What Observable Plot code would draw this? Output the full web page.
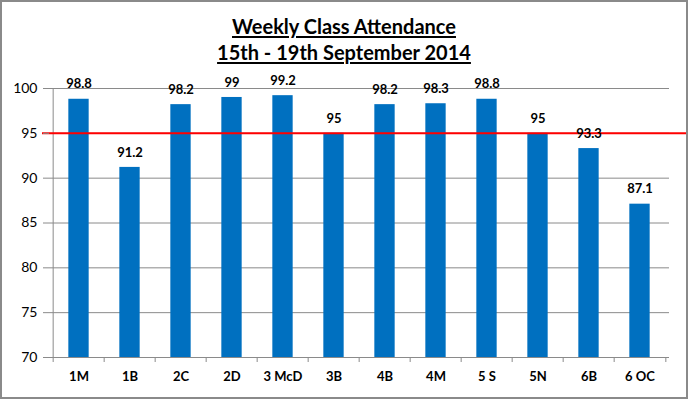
<!DOCTYPE html>
<html>
<head>
<meta charset="utf-8">
<script src="https://cdn.jsdelivr.net/npm/d3@7"></script>
<script src="https://cdn.jsdelivr.net/npm/@observablehq/plot@0.6"></script>
<style>
  html, body { margin: 0; padding: 0; background: #fff; }
  #wrap { position: relative; width: 688px; height: 399px; overflow: hidden; font-family: Lato, "Open Sans", sans-serif; }
  #title { height: 70px; box-sizing: border-box; padding-top: 13px; text-align: center; font-weight: bold; font-size: 20px; line-height: 26px; color: #000; }
  #title span { text-decoration: underline; text-underline-offset: 2px; }
  #border { position: absolute; left: 0; top: 0; width: 688px; height: 399px; box-sizing: border-box; border: 2px solid #8a8a8a; pointer-events: none; }
</style>
</head>
<body>
<div id="wrap">
  <div id="title"><span>Weekly Class Attendance</span><br><span>15th - 19th September 2014</span></div>
  <div id="chart"></div>
  <div id="border"></div>
</div>
<script>
const classes = ["1M", "1B", "2C", "2D", "3 McD", "3B", "4B", "4M", "5 S", "5N", "6B", "6 OC"];
const attendance = [98.8, 91.2, 98.2, 99, 99.2, 95, 98.2, 98.3, 98.8, 95, 93.3, 87.1];
const target = [95];
const yTicks = [70, 75, 80, 85, 90, 95, 100];

const data = classes.map((c, i) => ({cls: c, value: attendance[i]}));

const W = 688, H = 329, mL = 49, mR = 19, mT = 18, mB = 42;
const bw = (W - mL - mR) / classes.length;
const frameH = H - mT - mB;
const barW = 21;
const inset = (bw - barW) / 2;
const gray = "#8a8a8a";

const chart = Plot.plot({
  width: W,
  height: H,
  marginLeft: mL,
  marginRight: mR,
  marginTop: mT,
  marginBottom: mB,
  style: {fontFamily: "Lato, 'Open Sans', sans-serif", color: "#000", background: "#fff"},
  x: {domain: classes, padding: 0},
  y: {domain: [70, 100]},
  marks: [
    Plot.gridY(yTicks, {stroke: gray, strokeOpacity: 1, strokeWidth: 1}),
    Plot.ruleX([classes[0]], {dx: -bw / 2, stroke: gray, strokeWidth: 1}),
    Plot.ruleX(classes, {dx: -bw / 2, stroke: gray, insetTop: frameH, insetBottom: -5}),
    Plot.ruleX([classes[classes.length - 1]], {dx: bw / 2, stroke: gray, insetTop: frameH, insetBottom: -5}),
    Plot.barY(data, {x: "cls", y1: () => 70, y2: "value", fill: "#0070C0", insetLeft: inset, insetRight: inset}),
    Plot.ruleY([70], {stroke: gray, strokeWidth: 1}),
    Plot.ruleY(target, {stroke: "#FF0000", strokeWidth: 2, insetLeft: -7, insetRight: -mR}),
    Plot.text(data, {x: "cls", y: "value", text: d => String(d.value), dy: -15, fontWeight: "bold", fontSize: 13, fill: "#000"}),
    Plot.axisY({ticks: yTicks, tickSize: 6, tickPadding: 6, fontSize: 14, stroke: gray, label: null}),
    Plot.axisX({tickSize: 0, tickPadding: 14, fontSize: 13, fontWeight: "bold", label: null})
  ]
});
document.getElementById("chart").appendChild(chart);
</script>
</body>
</html>
